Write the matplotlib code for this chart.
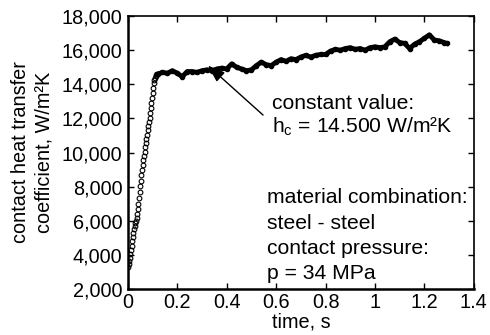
import matplotlib
matplotlib.use("Agg")
import matplotlib.pyplot as plt
from matplotlib.ticker import FuncFormatter

plt.rcParams['font.family'] = ['Liberation Sans', 'DejaVu Sans']

# rise phase, s / W/m2K
t_rise = [0.000, 0.0025, 0.005, 0.0075, 0.010, 0.0125, 0.015, 0.0175, 0.020, 0.0225,
          0.025, 0.0275, 0.030, 0.0325, 0.035, 0.0375, 0.040, 0.0425, 0.045, 0.0475,
          0.050, 0.0525, 0.055, 0.0575, 0.060, 0.0625, 0.065, 0.0675, 0.070, 0.0725,
          0.075, 0.0775, 0.080, 0.0825, 0.085, 0.0875, 0.090, 0.0925, 0.095, 0.0975,
          0.100, 0.1025, 0.105, 0.1075, 0.110, 0.1125, 0.115, 0.1175]
h_rise = [3300, 3450, 3650, 3850, 4050, 4300, 4550, 4800, 5050, 5300,
          5500, 5700, 5850, 6000, 6150, 6400, 6700, 7000, 7350, 7700,
          8050, 8350, 8700, 9000, 9300, 9550, 9800, 10050, 10300, 10550,
          10800, 11050, 11300, 11550, 11800, 12050, 12300, 12600, 12900, 13200,
          13500, 13800, 14050, 14250, 14400, 14500, 14560, 14600]

# plateau phase
t_plat = [0.12, 0.14, 0.16, 0.18, 0.20, 0.22, 0.24, 0.26, 0.28, 0.30,
          0.32, 0.34, 0.36, 0.38, 0.40, 0.42, 0.44, 0.46, 0.48, 0.50,
          0.52, 0.54, 0.56, 0.58, 0.60, 0.62, 0.64, 0.66, 0.68, 0.70,
          0.72, 0.74, 0.76, 0.78, 0.80, 0.82, 0.84, 0.86, 0.88, 0.90,
          0.92, 0.94, 0.96, 0.98, 1.00, 1.02, 1.04, 1.06, 1.08, 1.10,
          1.12, 1.14, 1.16, 1.18, 1.20, 1.22, 1.24, 1.26, 1.28, 1.29]
h_plat = [14600, 14700, 14650, 14800, 14650, 14450, 14750, 14750, 14700, 14800,
          14850, 14800, 14900, 14950, 14900, 15200, 15000, 14900, 14800, 14850,
          15100, 15300, 15150, 15100, 15300, 15450, 15350, 15500, 15450, 15600,
          15700, 15600, 15700, 15750, 15750, 15950, 16050, 16000, 16100, 16150,
          16050, 16100, 16000, 16150, 16200, 16150, 16200, 16500, 16650, 16450,
          16400, 16100, 16350, 16500, 16700, 16900, 16600, 16550, 16450, 16400]

x_ticks = [0, 0.2, 0.4, 0.6, 0.8, 1, 1.2, 1.4]
y_ticks = [2000, 4000, 6000, 8000, 10000, 12000, 14000, 16000, 18000]

fs = 14.3
fs_note = 15.2

fig = plt.figure(figsize=(4.9, 3.35), dpi=100)
ax = fig.add_axes([0.261, 0.137, 0.706, 0.815])

ax.plot(t_rise, h_rise, 'o', ms=3.4, mfc='none', mec='black', mew=0.8)
ax.plot(t_plat, h_plat, color='black', lw=3.5, marker='o', ms=3)

ax.set_xlim(0, 1.4)
ax.set_ylim(2000, 18000)
ax.set_xticks(x_ticks)
ax.set_yticks(y_ticks)
ax.xaxis.set_major_formatter(FuncFormatter(lambda v, p: '%g' % v))
ax.yaxis.set_major_formatter(FuncFormatter(lambda v, p: '{:,.0f}'.format(v)))
ax.tick_params(direction='in', length=4, width=1, top=True, right=True,
               labelsize=fs)
ax.tick_params(axis='y', pad=4)
ax.tick_params(axis='x', pad=3)
for s in ['left', 'bottom']:
    ax.spines[s].set_linewidth(1.8)
for s in ['top', 'right']:
    ax.spines[s].set_linewidth(1.2)

ax.set_xlabel('time, s', fontsize=fs, labelpad=0)
fig.text(32 / 490, 0.545, 'contact heat transfer\ncoefficient, W/m²K',
         rotation=90, ha='center', va='center', fontsize=fs, linespacing=1.3)

ax.annotate('', xy=(0.324, 15100), xytext=(0.547, 12200),
            arrowprops=dict(arrowstyle='-|>,head_length=0.7,head_width=0.25',
                            mutation_scale=15, color='black', lw=1,
                            shrinkA=0, shrinkB=0))
ax.text(0.583, 12900, 'constant value:', fontsize=fs_note, va='center')
ax.text(0.583, 11500, r'h$_\mathregular{c}$ = 14.500 W/m²K', fontsize=fs_note,
        va='center')

for hv, line in zip([7390, 5870, 4400, 2935],
                    ['material combination:', 'steel - steel',
                     'contact pressure:', 'p = 34 MPa']):
    ax.text(0.563, hv, line, fontsize=fs_note, va='center')

fig.savefig('out.png', dpi=100)
